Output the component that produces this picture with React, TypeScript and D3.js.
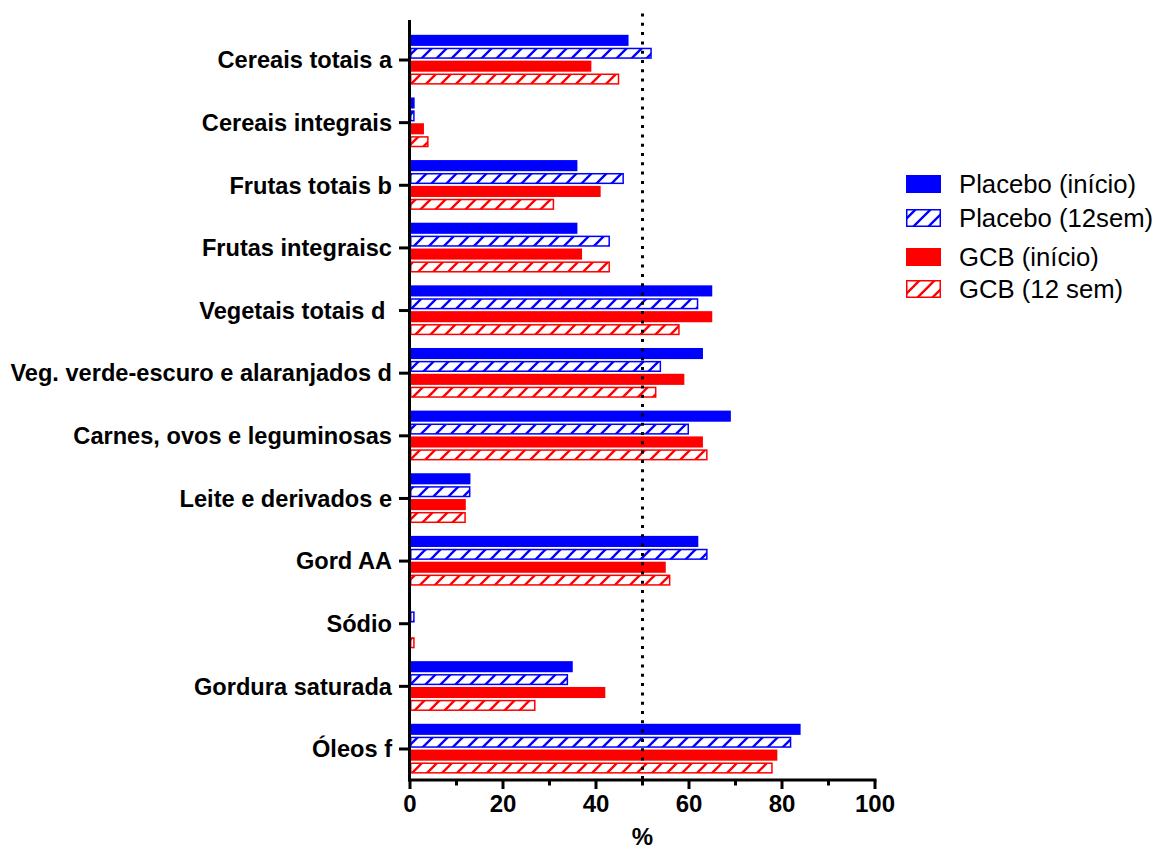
import React from "react";
import * as d3 from "d3";

// Categories (top to bottom) and the four series, in %
const categories = [
  "Cereais totais a",
  "Cereais integrais",
  "Frutas totais b",
  "Frutas integraisc",
  "Vegetais totais d ",
  "Veg. verde-escuro e alaranjados d",
  "Carnes, ovos e leguminosas",
  "Leite e derivados e",
  "Gord AA",
  "Sódio",
  "Gordura saturada",
  "Óleos f",
];

const placeboInicio = [47, 1, 36, 36, 65, 63, 69, 13, 62, 0, 35, 84];
const placebo12sem = [52, 1, 46, 43, 62, 54, 60, 13, 64, 1, 34, 82];
const gcbInicio = [39, 3, 41, 37, 65, 59, 63, 12, 55, 0, 42, 79];
const gcb12sem = [45, 4, 31, 43, 58, 53, 64, 12, 56, 1, 27, 78];

const seriesNames = ["Placebo (início)", "Placebo (12sem)", "GCB (início)", "GCB (12 sem)"];
const seriesColors = ["#0000ff", "#0000ff", "#ff0000", "#ff0000"];
const seriesHatched = [false, true, false, true];
const seriesValues = [placeboInicio, placebo12sem, gcbInicio, gcb12sem];

const xTicks = [0, 20, 40, 60, 80, 100];
const xMinorTicks = [10, 30, 50, 70, 90];
const referenceLine = 50;

const FONT = "'Liberation Sans', Arial, Helvetica, sans-serif";

export default function App() {
  const W = 1153;
  const H = 851;
  const axisX = 409.5;
  const axisY = 780;

  const x = d3.scaleLinear().domain([0, 100]).range([410, 875]);
  const y = d3.scaleBand<string>().domain(categories).range([28.7, 780.3]).padding(0);
  const inner = d3
    .scaleBand<number>()
    .domain([0, 1, 2, 3])
    .range([-25.2, 24.6])
    .paddingInner(0.14);

  const bw = inner.bandwidth();

  return (
    <svg
      width={W}
      height={H}
      viewBox={`0 0 ${W} ${H}`}
      style={{ position: "absolute", left: 0, top: 0, background: "#fff" }}
    >
      <defs>
        {["blue", "red"].map((c, i) => (
          <pattern
            key={c}
            id={`hatch-${c}`}
            patternUnits="userSpaceOnUse"
            width={15}
            height={15}
          >
            <rect width={15} height={15} fill="#fff" />
            <path
              d="M-3.75,3.75 L3.75,-3.75 M0,15 L15,0 M11.25,18.75 L18.75,11.25"
              stroke={i === 0 ? "#0000ff" : "#ff0000"}
              strokeWidth={2.3}
            />
          </pattern>
        ))}
      </defs>

      {/* bars */}
      {categories.map((cat, ci) => {
        const cy = (y(cat) ?? 0) + y.bandwidth() / 2;
        return seriesValues.map((vals, si) => {
          const v = vals[ci];
          if (v <= 0) return null;
          const top = cy + (inner(si) ?? 0);
          const w = x(v) - x(0);
          const color = seriesColors[si];
          if (seriesHatched[si]) {
            return (
              <rect
                key={`${ci}-${si}`}
                x={x(0) + 0.75}
                y={top + 0.75}
                width={Math.max(w - 1.5, 0.5)}
                height={bw - 1.5}
                fill={`url(#hatch-${si === 1 ? "blue" : "red"})`}
                stroke={color}
                strokeWidth={1.5}
              />
            );
          }
          return (
            <rect
              key={`${ci}-${si}`}
              x={x(0)}
              y={top}
              width={w}
              height={bw}
              fill={color}
            />
          );
        });
      })}

      {/* reference line at 50% */}
      <line
        x1={x(referenceLine)}
        x2={x(referenceLine)}
        y1={13.5}
        y2={axisY}
        stroke="#000"
        strokeWidth={3}
        strokeDasharray="3,6.3"
      />

      {/* y axis */}
      <line x1={axisX} x2={axisX} y1={20} y2={axisY + 1.5} stroke="#000" strokeWidth={3} />
      {categories.map((cat) => {
        const cy = (y(cat) ?? 0) + y.bandwidth() / 2;
        return (
          <g key={cat}>
            <line x1={399} x2={axisX} y1={cy} y2={cy} stroke="#000" strokeWidth={3} />
            <text
              x={392}
              y={cy}
              dy="0.35em"
              textAnchor="end"
              fontFamily={FONT}
              fontWeight="bold"
              fontSize={23.6}
              style={{ whiteSpace: "pre" }}
              fill="#000"
            >
              {cat}
            </text>
          </g>
        );
      })}

      {/* x axis */}
      <line x1={axisX - 1.5} x2={x(100) + 1.5} y1={axisY} y2={axisY} stroke="#000" strokeWidth={3} />
      {xTicks.map((t) => (
        <g key={t}>
          <line x1={x(t)} x2={x(t)} y1={axisY} y2={axisY + 9} stroke="#000" strokeWidth={3} />
          <text
            x={x(t)}
            y={812}
            textAnchor="middle"
            fontFamily={FONT}
            fontWeight="bold"
            fontSize={24}
            fill="#000"
          >
            {t}
          </text>
        </g>
      ))}
      {xMinorTicks.map((t) => (
        <line key={t} x1={x(t)} x2={x(t)} y1={axisY} y2={axisY + 5.5} stroke="#000" strokeWidth={3} />
      ))}
      <text
        x={x(50)}
        y={845}
        textAnchor="middle"
        fontFamily={FONT}
        fontWeight="bold"
        fontSize={24}
        fill="#000"
      >
        %
      </text>

      {/* legend */}
      {seriesNames.map((name, i) => {
        const ly = [175, 209, 248, 280][i];
        const color = seriesColors[i];
        return (
          <g key={name}>
            {seriesHatched[i] ? (
              <rect
                x={906.75}
                y={ly + 0.75}
                width={33.5}
                height={16.5}
                fill={`url(#hatch-${i === 1 ? "blue" : "red"})`}
                stroke={color}
                strokeWidth={1.5}
              />
            ) : (
              <rect x={906} y={ly} width={35} height={18} fill={color} />
            )}
            <text
              x={959}
              y={ly + 9}
              dy="0.35em"
              fontFamily={FONT}
              fontSize={25.7}
              fill="#000"
            >
              {name}
            </text>
          </g>
        );
      })}
    </svg>
  );
}
